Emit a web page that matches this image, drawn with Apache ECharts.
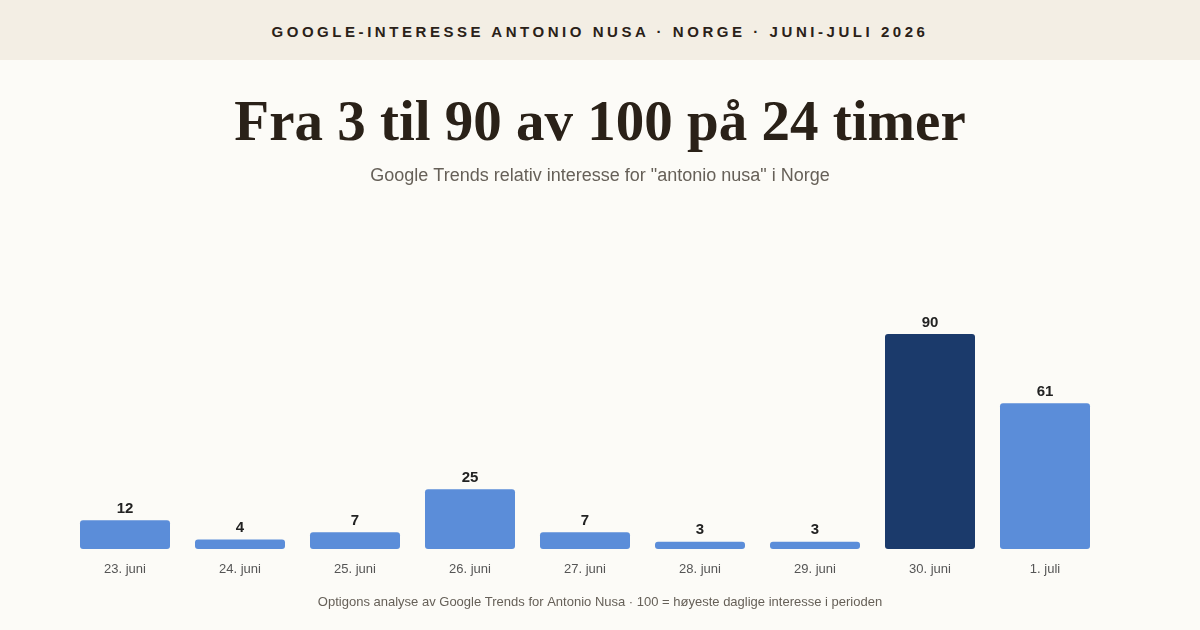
<!DOCTYPE html>
<html>
<head>
<meta charset="utf-8">
<style>
  html, body { margin: 0; padding: 0; background: #fcfbf7; }
  #head {
    position: absolute; left: 0; top: 0; width: 1200px; height: 60px;
    background: #f3eee4; color: #2a2118;
    font-family: "Liberation Sans", Arial, sans-serif; font-weight: bold;
    font-size: 15px; letter-spacing: 3.55px; text-align: center; line-height: 64px;
  }
  #chart { position: absolute; left: 0; top: 60px; width: 1200px; height: 570px; }
</style>
<script src="https://cdn.jsdelivr.net/npm/echarts@6/dist/echarts.min.js"></script>
</head>
<body>
<div id="head">GOOGLE-INTERESSE ANTONIO NUSA · NORGE · JUNI-JULI 2026</div>
<div id="chart"></div>
<script>
var days = ['23. juni', '24. juni', '25. juni', '26. juni', '27. juni', '28. juni', '29. juni', '30. juni', '1. juli'];
var interest = [12, 4, 7, 25, 7, 3, 3, 90, 61];
var peakDay = '30. juni';

var myChart = echarts.init(document.getElementById('chart'));
var option = {
    backgroundColor: '#fcfbf7',
    title: [
        {
            text: 'Fra 3 til 90 av 100 på 24 timer',
            left: 'center',
            top: 32,
            textStyle: {
                fontFamily: '"Liberation Serif", Georgia, serif',
                fontSize: 57,
                fontWeight: 'bold',
                color: '#2a2118'
            }
        },
        {
            text: 'Google Trends relativ interesse for "antonio nusa" i Norge',
            left: 'center',
            top: 102,
            textStyle: {
                fontFamily: '"Liberation Sans", Arial, sans-serif',
                fontSize: 18,
                fontWeight: 'normal',
                color: '#666058'
            }
        },
        {
            text: 'Optigons analyse av Google Trends for Antonio Nusa · 100 = høyeste daglige interesse i perioden',
            left: 'center',
            top: 531,
            textStyle: {
                fontFamily: '"Liberation Sans", Arial, sans-serif',
                fontSize: 13,
                fontWeight: 'normal',
                color: '#666058'
            }
        }
    ],
    grid: { left: 67.5, right: 97.5, top: 250, bottom: 81 },
    xAxis: {
        type: 'category',
        data: days,
        axisLine: { show: false },
        axisTick: { show: false },
        axisLabel: {
            margin: 14,
            fontFamily: '"Liberation Sans", Arial, sans-serif',
            fontSize: 13,
            color: '#555'
        }
    },
    yAxis: {
        type: 'value',
        min: 0,
        max: 100,
        show: false,
        splitLine: { show: false }
    },
    series: [
        {
            type: 'bar',
            barWidth: 90,
            data: interest.map(function (v, i) {
                return {
                    value: v,
                    itemStyle: { color: days[i] === peakDay ? '#1b3a6b' : '#5b8dd9' }
                };
            }),
            itemStyle: { borderRadius: 3 },
            label: {
                show: true,
                position: 'top',
                distance: 4,
                fontFamily: '"Liberation Sans", Arial, sans-serif',
                fontSize: 15,
                fontWeight: 'bold',
                color: '#222'
            }
        }
    ]
};
myChart.setOption(option);
</script>
</body>
</html>
